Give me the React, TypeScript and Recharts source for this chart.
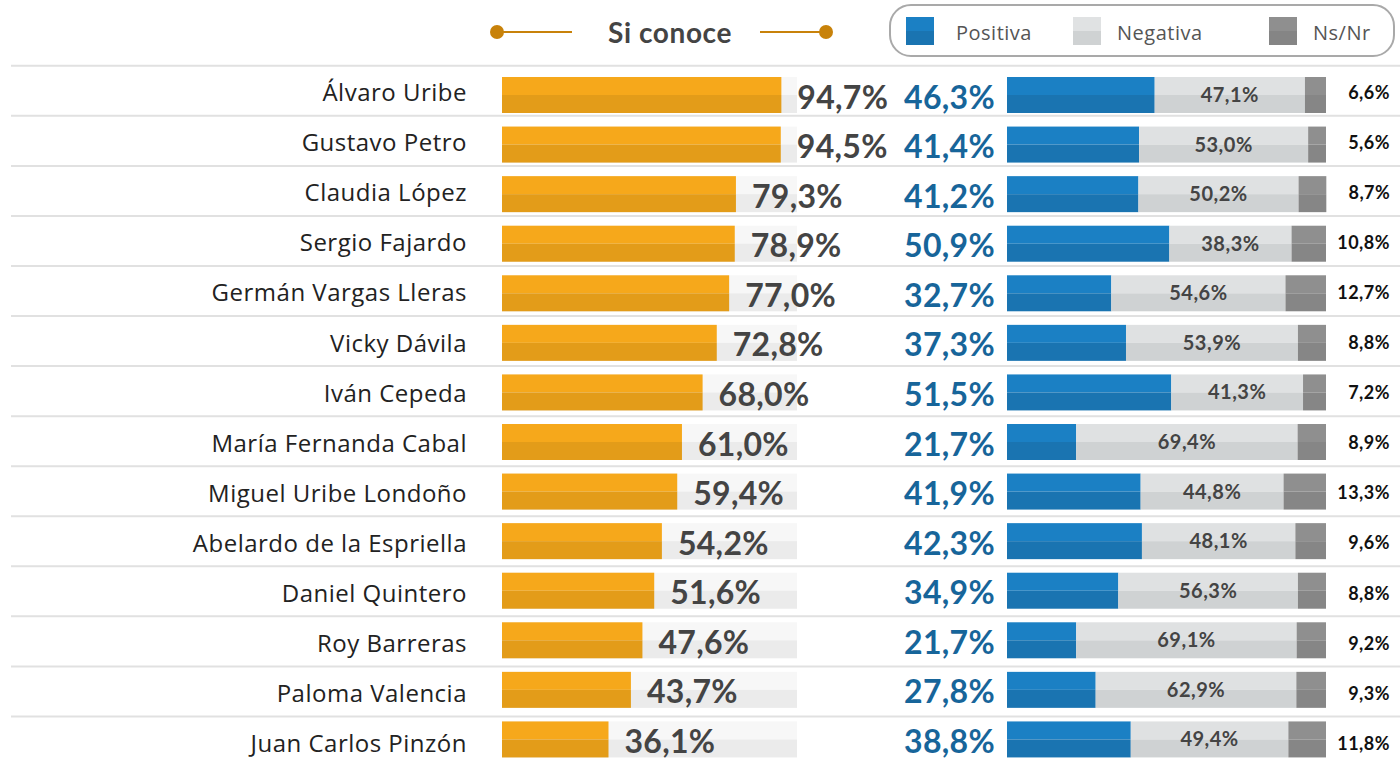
import React from "react";
import { ComposedChart, Bar, XAxis, YAxis, Legend, LabelList } from "recharts";

const names = [
  "Álvaro Uribe",
  "Gustavo Petro",
  "Claudia López",
  "Sergio Fajardo",
  "Germán Vargas Lleras",
  "Vicky Dávila",
  "Iván Cepeda",
  "María Fernanda Cabal",
  "Miguel Uribe Londoño",
  "Abelardo de la Espriella",
  "Daniel Quintero",
  "Roy Barreras",
  "Paloma Valencia",
  "Juan Carlos Pinzón",
];
const conoce = [94.7, 94.5, 79.3, 78.9, 77.0, 72.8, 68.0, 61.0, 59.4, 54.2, 51.6, 47.6, 43.7, 36.1];
const positiva = [46.3, 41.4, 41.2, 50.9, 32.7, 37.3, 51.5, 21.7, 41.9, 42.3, 34.9, 21.7, 27.8, 38.8];
const negativa = [47.1, 53.0, 50.2, 38.3, 54.6, 53.9, 41.3, 69.4, 44.8, 48.1, 56.3, 69.1, 62.9, 49.4];
const nsnr = [6.6, 5.6, 8.7, 10.8, 12.7, 8.8, 7.2, 8.9, 13.3, 9.6, 8.8, 9.2, 9.3, 11.8];

const data = names.map((name, i) => ({
  name,
  conoce: conoce[i],
  positiva: positiva[i],
  negativa: negativa[i],
  nsnr: nsnr[i],
}));

const W = 1400;
const H = 764;
const NUM_FONT = "Lato, 'Open Sans', sans-serif";
const TXT_FONT = "'Open Sans', Lato, sans-serif";
const PLOT_LEFT = 502;

// pixel scales: 100% = 295px (conoce), 319px (stack)
const conoceDomain: [number, number] = [0, (W - PLOT_LEFT) / 2.95];
const stackDomain: [number, number] = [(PLOT_LEFT - 1007) / 3.19, (W - 1007) / 3.19];

// the row separators run on a slightly wider step than the bars
const sepOffset = (index: number) => -29 + index * 0.48;

const fmt = (v: number) => v.toFixed(1).replace(".", ",") + "%";

const twoTone = (top: string, bottom: string) => (props: any) => {
  const { x, y, width, height } = props;
  if (!width || width <= 0) return <g />;
  const h = height / 2;
  return (
    <g>
      <rect x={x} y={y} width={width} height={h} fill={top} />
      <rect x={x} y={y + h} width={width} height={height - h} fill={bottom} />
    </g>
  );
};

const ConoceShape = (props: any) => {
  const { x, y, width, height, value } = props;
  const v = Array.isArray(value) ? value[1] - value[0] : value;
  const track = (width * 100) / v;
  const h = height / 2;
  return (
    <g>
      <rect x={x} y={y} width={track} height={h} fill="#f7f7f7" />
      <rect x={x} y={y + h} width={track} height={height - h} fill="#ebebeb" />
      <rect x={x} y={y} width={width} height={h} fill="#f6a81b" />
      <rect x={x} y={y + h} width={width} height={height - h} fill="#e39c19" />
    </g>
  );
};

const NameTick = (props: any) => {
  const { x, y, payload, index } = props;
  const i = payload.index ?? index ?? 0;
  const sep = y + sepOffset(i);
  return (
    <g>
      <line x1={11} x2={W} y1={sep} y2={sep} stroke="#e1e1e1" strokeWidth={2} />
      <text
        x={x}
        y={sep + 26}
        textAnchor="end"
        dominantBaseline="central"
        fontFamily={TXT_FONT}
        fontSize={24}
        letterSpacing={0.5}
        fill="#222"
      >
        {payload.value}
      </text>
    </g>
  );
};

const HeaderLegend = (props: any) => {
  const items = (props.payload || []).filter((p: any) => p.dataKey !== "conoce");
  const boxes: Record<string, [string, string]> = {
    positiva: ["#1b80c4", "#1a74b1"],
    negativa: ["#e0e2e3", "#cfd2d3"],
    nsnr: ["#8f8f8f", "#858585"],
  };
  const lefts: Record<string, number> = { positiva: 906, negativa: 1073, nsnr: 1269 };
  const textGap: Record<string, number> = { positiva: 50, negativa: 44, nsnr: 44 };
  return (
    <div style={{ position: "relative", width: W, height: 66, fontFamily: TXT_FONT }}>
      <div style={{ position: "absolute", left: 490, top: 25, width: 14, height: 14, borderRadius: 7, background: "#c8820a" }} />
      <div style={{ position: "absolute", left: 497, top: 31, width: 75, height: 2, background: "#c8820a" }} />
      <div
        style={{
          position: "absolute",
          left: 570,
          top: 13,
          width: 200,
          textAlign: "center",
          fontFamily: NUM_FONT,
          fontWeight: 700,
          fontSize: 28,
          letterSpacing: 0.6,
          color: "#444",
          lineHeight: "38px",
        }}
      >
        Si conoce
      </div>
      <div style={{ position: "absolute", left: 760, top: 31, width: 66, height: 2, background: "#c8820a" }} />
      <div style={{ position: "absolute", left: 819, top: 25, width: 14, height: 14, borderRadius: 7, background: "#c8820a" }} />
      <div
        style={{
          position: "absolute",
          left: 889,
          top: 4,
          width: 506,
          height: 53,
          border: "2px solid #a9a9a9",
          borderRadius: 22,
          boxSizing: "border-box",
        }}
      />
      {items.map((it: any) => {
        const c = boxes[it.dataKey];
        const left = lefts[it.dataKey];
        return (
          <React.Fragment key={it.dataKey}>
            <div
              style={{
                position: "absolute",
                left,
                top: 17,
                width: 28,
                height: 28,
                background: `linear-gradient(${c[0]} 50%, ${c[1]} 50%)`,
              }}
            />
            <div
              style={{
                position: "absolute",
                left: left + textGap[it.dataKey],
                top: 17,
                fontSize: 20,
                letterSpacing: 0.5,
                color: "#555",
                lineHeight: "32px",
              }}
            >
              {it.value}
            </div>
          </React.Fragment>
        );
      })}
    </div>
  );
};

const pctLabel = (opts: {
  dx: (p: any) => number;
  dy: (p: any) => number;
  anchor: string;
  size: number;
  color: string;
  ls?: number;
}) => (p: any) => (
  <text
    x={opts.dx(p)}
    y={p.y + p.height / 2 + opts.dy(p)}
    textAnchor={opts.anchor}
    dominantBaseline="central"
    fontFamily={NUM_FONT}
    fontWeight={700}
    fontSize={opts.size}
    letterSpacing={opts.ls || 0}
    fill={opts.color}
  >
    {fmt(p.value)}
  </text>
);

export default function App() {
  return (
    <div style={{ position: "absolute", left: 0, top: 0, width: W, height: 762, overflow: "hidden", background: "#fff" }}>
      <ComposedChart width={W} height={H} data={data} layout="vertical" margin={{ top: 4, right: 0, bottom: 0, left: 0 }}>
        <Legend verticalAlign="top" height={66} content={<HeaderLegend />} wrapperStyle={{ left: 0, top: 0 }} />
        <XAxis xAxisId="c" type="number" domain={conoceDomain} allowDataOverflow hide />
        <XAxis xAxisId="s" type="number" domain={stackDomain} allowDataOverflow hide />
        <YAxis
          yAxisId="c"
          type="category"
          dataKey="name"
          width={PLOT_LEFT}
          axisLine={false}
          tickLine={false}
          tickSize={0}
          tickMargin={35}
          interval={0}
          tick={<NameTick />}
        />
        <YAxis yAxisId="s" type="category" dataKey="name" hide />
        <Bar dataKey="conoce" name="Si conoce" xAxisId="c" yAxisId="c" barSize={36} shape={ConoceShape} isAnimationActive={false}>
          <LabelList
            dataKey="conoce"
            content={pctLabel({ dx: (p) => p.x + p.width + 16, dy: () => 1, anchor: "start", size: 32, color: "#444", ls: 0.3 })}
          />
        </Bar>
        <Bar
          dataKey="positiva"
          name="Positiva"
          stackId="s"
          xAxisId="s"
          yAxisId="s"
          barSize={36}
          shape={twoTone("#1b80c4", "#1a74b1")}
          isAnimationActive={false}
        >
          <LabelList
            dataKey="positiva"
            content={pctLabel({ dx: (p) => p.x - 12, dy: () => 1, anchor: "end", size: 32, color: "#17659a", ls: 0.3 })}
          />
        </Bar>
        <Bar
          dataKey="negativa"
          name="Negativa"
          stackId="s"
          xAxisId="s"
          yAxisId="s"
          barSize={36}
          shape={twoTone("#dfe1e2", "#cfd2d3")}
          isAnimationActive={false}
        >
          <LabelList
            dataKey="negativa"
            content={pctLabel({ dx: (p) => p.x + p.width / 2, dy: () => -1, anchor: "middle", size: 20, color: "#444", ls: 0.5 })}
          />
        </Bar>
        <Bar
          dataKey="nsnr"
          name="Ns/Nr"
          stackId="s"
          xAxisId="s"
          yAxisId="s"
          barSize={36}
          shape={twoTone("#8f8f8f", "#868686")}
          isAnimationActive={false}
        >
          <LabelList
            dataKey="nsnr"
            content={pctLabel({
              dx: (p) => p.x + p.width + 64,
              dy: (p) => sepOffset(p.index ?? 0) + 26,
              anchor: "end",
              size: 18,
              color: "#111",
              ls: 0.5,
            })}
          />
        </Bar>
      </ComposedChart>
    </div>
  );
}
